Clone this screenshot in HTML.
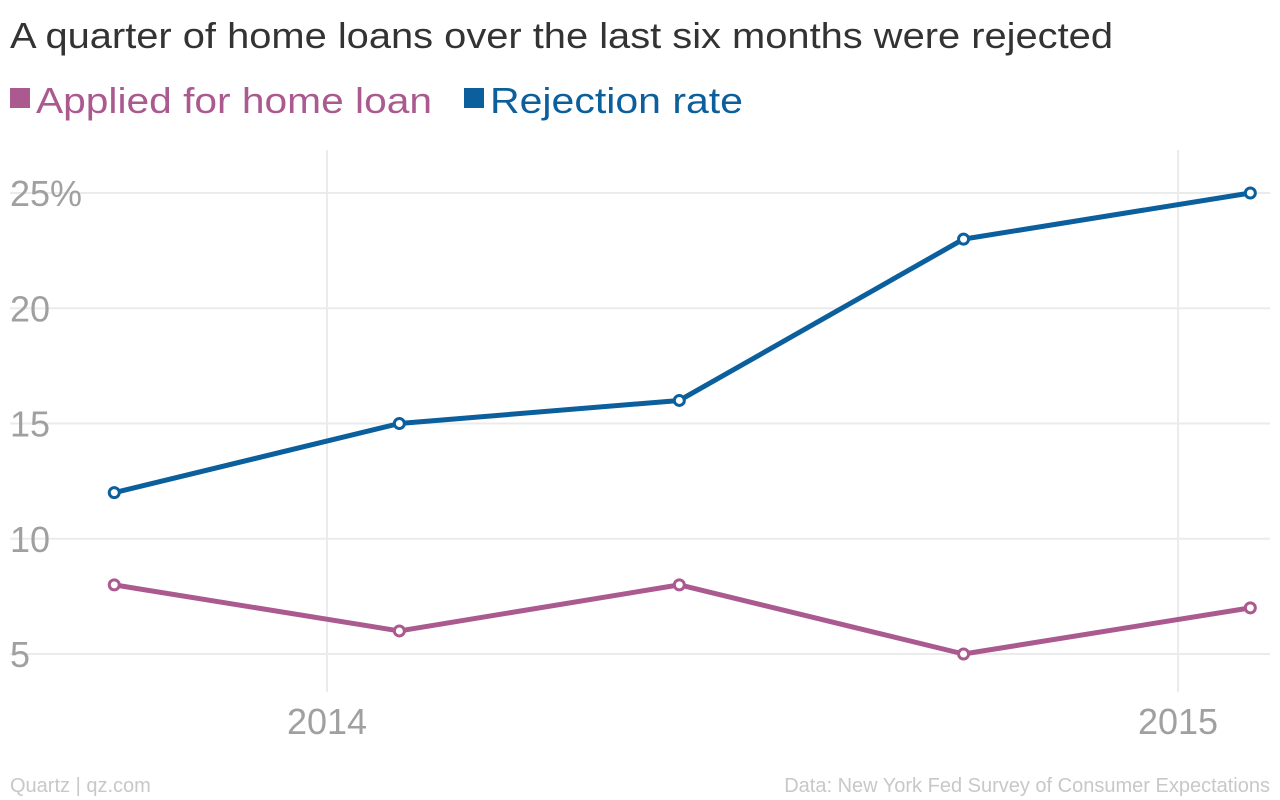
<!DOCTYPE html>
<html><head><meta charset="utf-8"><style>
body{margin:0;background:#fff;}
svg{display:block;font-family:"Liberation Sans",sans-serif;}
</style></head><body>
<svg width="1280" height="800" viewBox="0 0 1280 800">
<text x="10" y="48" font-size="36" fill="#333" textLength="1103" lengthAdjust="spacingAndGlyphs">A quarter of home loans over the last six months were rejected</text>
<g>
<rect x="10" y="88" width="20" height="20" fill="#aa5a8f"/>
<text x="36" y="113" font-size="36" fill="#aa5a8f" textLength="396" lengthAdjust="spacingAndGlyphs">Applied for home loan</text>
<rect x="464" y="88" width="20" height="20" fill="#0a5f9c"/>
<text x="490" y="113" font-size="36" fill="#0a5f9c" textLength="253" lengthAdjust="spacingAndGlyphs">Rejection rate</text>
</g>
<g id="grid"></g>
<g id="marks"></g>
<text x="10" y="792" font-size="20" fill="#c8c8c8">Quartz | qz.com</text>
<text x="1270" y="792" font-size="20" fill="#c8c8c8" text-anchor="end">Data: New York Fed Survey of Consumer Expectations</text>
</svg>
<script>
const dates = [2013.75, 2014.085, 2014.414, 2014.748, 2015.085];
const rejection = [12, 15, 16, 23, 25];
const applied = [8, 6, 8, 5, 7];
const yTicks = [5, 10, 15, 20, 25];
const yTickLabels = ["5", "10", "15", "20", "25%"];
const xTicks = [2014, 2015];
const xTickLabels = ["2014", "2015"];

const NS = "http://www.w3.org/2000/svg";
function x(v){ return 327 + (v - 2014) * 851; }
function y(v){ return 654 - (v - 5) * 23.05; }
function mk(tag, attrs, parent){
  const e = document.createElementNS(NS, tag);
  for (const k in attrs) e.setAttribute(k, attrs[k]);
  parent.appendChild(e); return e;
}
const grid = document.getElementById('grid');
const marks = document.getElementById('marks');
yTicks.forEach((t, i) => {
  const l = mk('line', {x1: 10, x2: 1270, y1: y(t), y2: y(t), stroke: '#ebebeb', 'stroke-width': 2}, grid);
  
  
  const tx = mk('text', {x: 10, y: y(t) + 13, 'font-size': 36, fill: '#a0a0a0'}, grid);
  tx.textContent = yTickLabels[i];
  
  
});
xTicks.forEach((t, i) => {
  const l = mk('line', {x1: x(t), x2: x(t), y1: 150, y2: 692, stroke: '#ebebeb', 'stroke-width': 2}, grid);
  
  
  const tx = mk('text', {x: x(t), y: 734, 'font-size': 36, fill: '#a0a0a0', 'text-anchor': 'middle'}, grid);
  tx.textContent = xTickLabels[i];
  
  
});
function series(vals, color, name){
  const pts = vals.map((v, i) => x(dates[i]) + ',' + y(v)).join(' ');
  const pl = mk('polyline', {points: pts, fill: 'none', stroke: color, 'stroke-width': 5, 'stroke-linejoin': 'round'}, marks);
  
  
  vals.forEach((v, i) => {
    const c = mk('circle', {cx: x(dates[i]), cy: y(v), r: 5, fill: '#fff', stroke: color, 'stroke-width': 3}, marks);
    
    
  });
}
series(applied, '#aa5a8f', 'applied');
series(rejection, '#0a5f9c', 'rejection');
</script>
</body></html>
